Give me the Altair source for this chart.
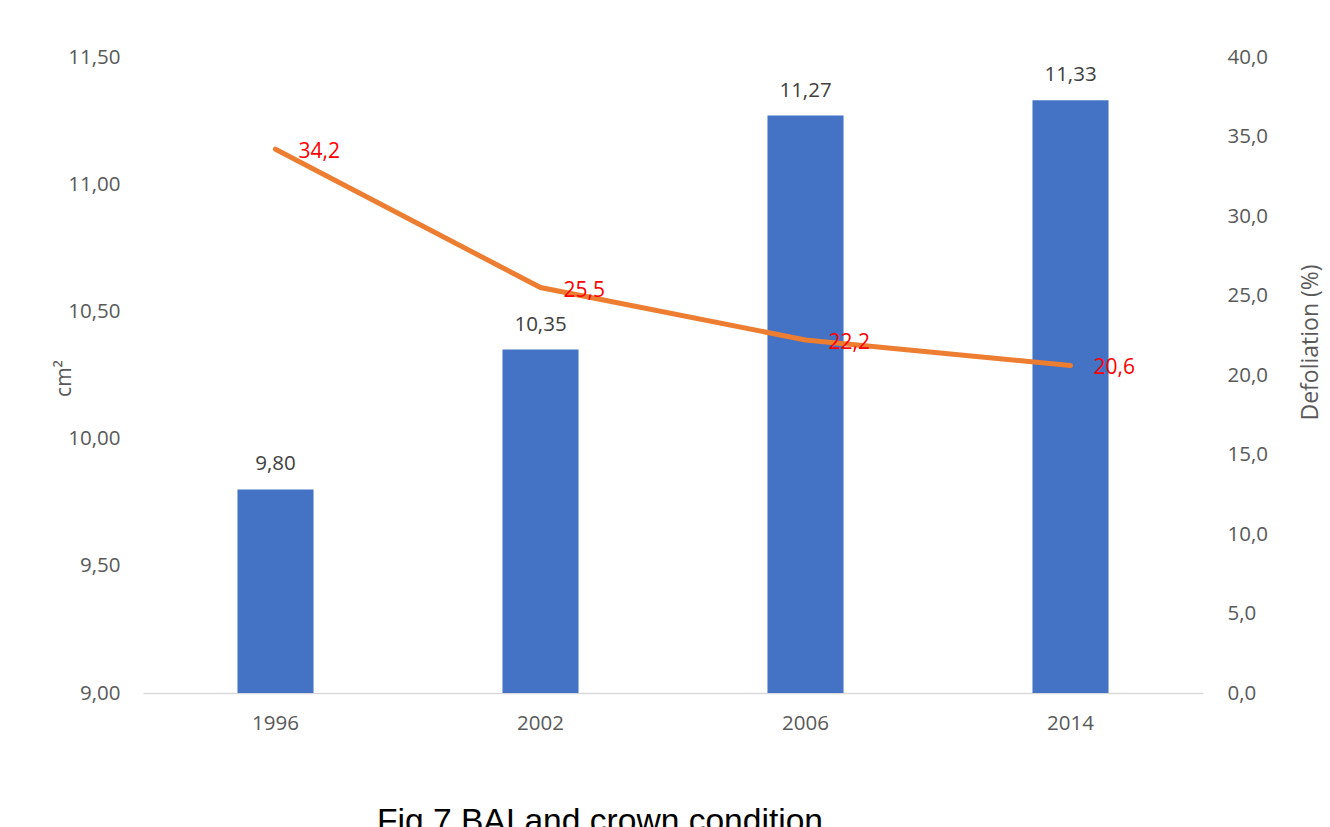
import altair as alt
import pandas as pd

# BAI (basal area increment, cm²) and crown defoliation (%) by survey year
years = ["1996", "2002", "2006", "2014"]
bai = [9.80, 10.35, 11.27, 11.33]
defoliation = [34.2, 25.5, 22.2, 20.6]

df = pd.DataFrame({"year": years, "bai": bai, "defol": defoliation})

FONT = "Open Sans"
GREY = "#595959"
SIZE = 20.5

x_enc = alt.X(
    "year:N",
    title=None,
    sort=years,
    scale=alt.Scale(paddingInner=0.713, paddingOuter=0.3565),
    axis=alt.Axis(
        labelAngle=0, labelFont=FONT, labelFontSize=SIZE, labelColor=GREY,
        labelPadding=20, ticks=False, domainColor="#D9D9D9", domainWidth=1.3,
    ),
)

left_axis = alt.Axis(
    values=[9.0, 9.5, 10.0, 10.5, 11.0, 11.5],
    labelExpr="replace(format(datum.value, '.2f'), '.', ',')",
    labelFont=FONT, labelFontSize=SIZE, labelColor=GREY, labelPadding=23,
    ticks=False, domain=False, grid=False,
    title="cm²", titleFont=FONT, titleFontSize=21, titleColor=GREY,
    titleFontWeight="normal", titleAngle=270, titleX=-73, titleY=321,
    titleAlign="center", titleBaseline="alphabetic",
)

right_axis = alt.Axis(
    orient="right",
    values=[0, 5, 10, 15, 20, 25, 30, 35, 40],
    labelExpr="replace(format(datum.value, '.1f'), '.', ',')",
    labelFont=FONT, labelFontSize=SIZE, labelColor=GREY, labelPadding=24,
    ticks=False, domain=False, grid=False,
    title="Defoliation (%)", titleFont=FONT, titleFontSize=23, titleColor=GREY,
    titleFontWeight="normal", titleAngle=270, titleX=114, titleY=285,
    titleAlign="center", titleBaseline="alphabetic",
)

y_left = alt.Y("bai:Q", scale=alt.Scale(domain=[9.0, 11.5], zero=False, nice=False), axis=left_axis)
y_right = alt.Y("defol:Q", scale=alt.Scale(domain=[0, 40], nice=False), axis=right_axis)

base = alt.Chart(df)

bars = base.mark_bar(color="#4472C4").encode(x=x_enc, y=y_left, y2=alt.datum(9.0))
bar_labels = base.transform_calculate(
    lbl="replace(format(datum.bai, '.2f'), '.', ',')"
).mark_text(font=FONT, fontSize=SIZE, color="#404040", baseline="middle", dy=-25).encode(
    x=x_enc, y=y_left, text="lbl:N"
)

line = base.mark_line(color="#ED7D31", strokeWidth=5, strokeCap="round").encode(x=x_enc, y=y_right)
line_labels = base.transform_calculate(
    lbl="replace(format(datum.defol, '.1f'), '.', ',')"
).mark_text(font=FONT, fontSize=21, color="#FF0000", align="left", baseline="middle", dx=23, dy=3).encode(
    x=x_enc, y=y_right, text="lbl:N"
)

chart = (
    alt.layer(alt.layer(bars, bar_labels), alt.layer(line, line_labels))
    .resolve_scale(y="independent")
    .properties(
        width=1060,
        height=636,
        autosize=alt.AutoSizeParams(type="none"),
        padding={"left": 143, "top": 57, "right": 127, "bottom": 150},
        title=alt.TitleParams(
            "Fig 7 BAI and crown condition",
            orient="bottom", anchor="middle", font="Liberation Sans",
            fontSize=33.6, fontWeight="normal", color="#000000", offset=71, dx=-73,
        ),
    )
    .configure_view(stroke=None)
)

chart.save("out.html", embed_options={"renderer": "svg", "actions": False})
